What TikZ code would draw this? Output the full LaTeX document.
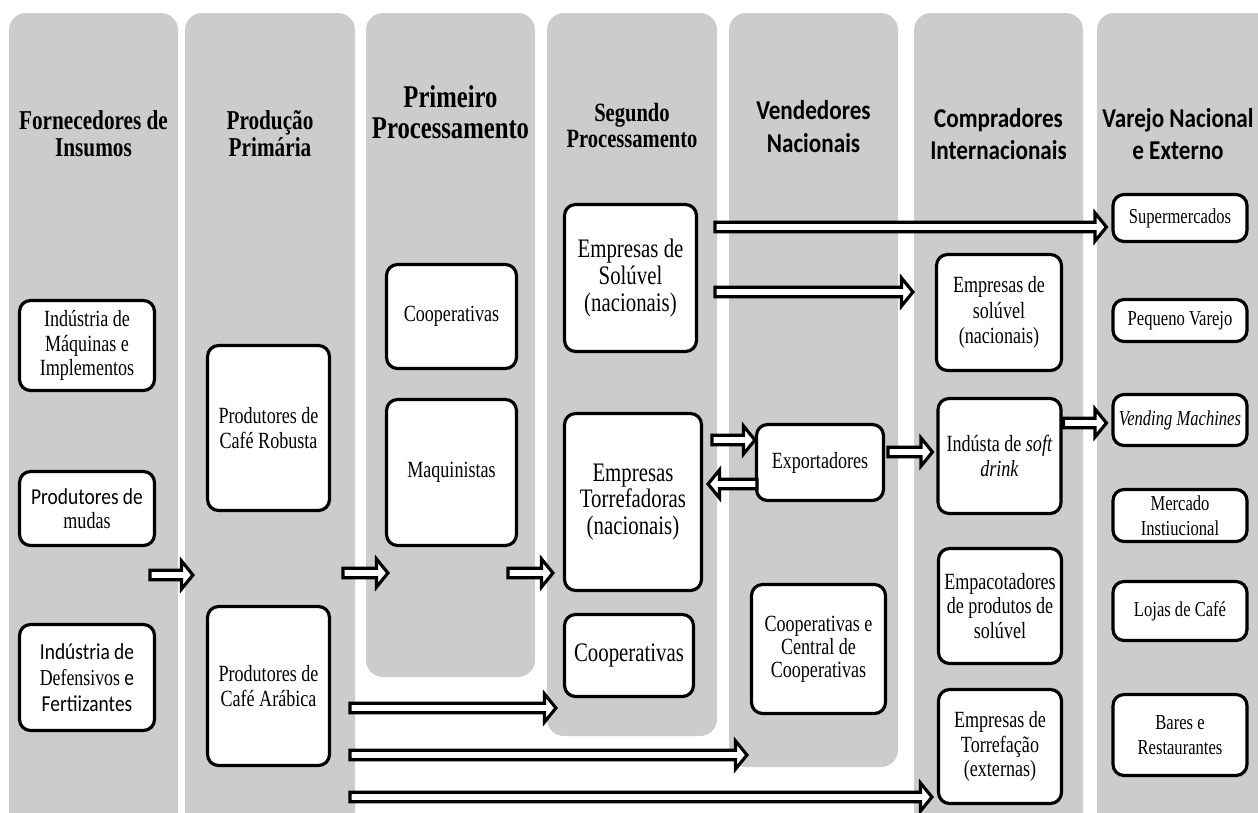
\documentclass[tikz,border=0pt]{standalone}
\usepackage{fontspec}
\setmainfont{Liberation Serif}[FakeStretch=0.78]
\setsansfont{Carlito}[FakeStretch=0.85]
\usepackage{tikz}
\usetikzlibrary{calc}

% seta em bloco (contorno preto, miolo branco) de #1 ate #2
\newcommand{\seta}[2]{%
  \draw[setabloco] let \p1=(#1), \p2=(#2), \p3=($(\p2)!6.5pt!(\p1)$) in
    (\x1,\y1+2.7pt) -- (\x3,\y1+2.7pt) -- (\x3,\y1+8pt) -- (\x2,\y1)
    -- (\x3,\y1-8pt) -- (\x3,\y1-2.7pt) -- (\x1,\y1-2.7pt) -- cycle;}

\begin{document}
\begin{tikzpicture}[x=0.02cm, y=-0.02cm]
\tikzset{%
  painel/.style = {fill=gray!40, rounded corners=0.34cm},
  caixa/.style = {%
    draw,
    fill = white,
    line width = 1.8pt,
    rounded corners = 0.22cm,
    align = center,
    inner sep = 1pt,
    font = \fontsize{13.2}{13.8}\selectfont},
  caixagr/.style = {caixa, font=\fontsize{15.2}{15.2}\selectfont},
  caixapq/.style = {caixa, font=\fontsize{12.1}{14}\selectfont,
    minimum width=2.68cm},
  titulo/.style = {align=center, font=\bfseries\fontsize{15.5}{15.3}\selectfont},
  titulosf/.style = {align=center, font=\sffamily\bfseries\fontsize{15.5}{18.5}\selectfont},
  setabloco/.style = {draw, fill=white, line width=1.8pt, line join=miter}
}

  \path[use as bounding box, fill=white] (0,0) rectangle (1258,812);
  \clip (0,0) rectangle (1258,812);

  \fill[painel] (9,13) rectangle (178,830);
  \fill[painel] (185,13) rectangle (355,830);
  \fill[painel] (366,13) rectangle (535,677);
  \fill[painel] (547,13) rectangle (717,736);
  \fill[painel] (729,13) rectangle (898,767);
  \fill[painel] (914,13) rectangle (1083,830);
  \fill[painel] (1097,13) rectangle (1275,830);

  \node[titulo] (h1) at (93.5,133.5) {Fornecedores de\\Insumos};
  \node[titulo] (h2) at (270,133.5) {Produção\\Primária};
  \node[titulo, font=\bfseries\fontsize{18}{17.8}\selectfont]
    (h3) at (450.5,112) {Primeiro\\Processamento};
  \node[titulo, font=\bfseries\fontsize{15}{14.8}\selectfont]
    (h4) at (632,125) {Segundo\\Processamento};
  \node[titulosf] (h5) at (813.5,126.5) {Vendedores\\Nacionais};
  \node[titulosf] (h6) at (998.5,134) {Compradores\\Internacionais};
  \node[titulosf] (h7) at (1178,134) {Varejo Nacional\\e Externo};

  \node[caixa, minimum width=2.7cm, minimum height=1.8cm]
    (maq) at (87,345.5) {Indústria de\\Máquinas e\\Implementos};
  \node[caixa, minimum width=2.7cm, minimum height=1.48cm]
    (mudas) at (87,508.5) {{\sffamily\fontsize{13}{15}\selectfont Produtores de}\\mudas};
  \node[caixa, minimum width=2.7cm, minimum height=2.12cm,
    font=\fontsize{13}{15}\selectfont]
    (defens) at (87,677.5) {{\sffamily Indústria de}\\Defensivos {\sffamily e}\\{\sffamily Fertiizantes}};

  \node[caixa, minimum width=2.44cm, minimum height=3.3cm]
    (robusta) at (268.5,428) {Produtores de\\Café Robusta};
  \node[caixa, minimum width=2.44cm, minimum height=3.18cm]
    (arabica) at (268.5,686) {Produtores de\\Café Arábica};

  \node[caixa, minimum width=2.6cm, minimum height=2.08cm]
    (coop1) at (451.5,316.5) {Cooperativas};
  \node[caixa, minimum width=2.6cm, minimum height=2.92cm]
    (maquin) at (451.5,472.5) {Maquinistas};

  \node[caixagr, minimum width=2.64cm, minimum height=2.94cm]
    (sol) at (630.5,278) {Empresas de\\Solúvel\\(nacionais)};
  \node[caixagr, minimum width=2.74cm, minimum height=3.54cm]
    (torr) at (633,502) {Empresas\\Torrefadoras\\(nacionais)};
  \node[caixagr, minimum width=2.58cm, minimum height=1.64cm]
    (coop2) at (629,655.5) {Cooperativas};

  \node[caixa, minimum width=2.54cm, minimum height=1.52cm]
    (exp) at (820,462.5) {Exportadores};
  \node[caixa, minimum width=2.68cm, minimum height=2.58cm,
    font=\fontsize{13.2}{13.2}\selectfont]
    (central) at (818.5,649) {Cooperativas e\\Central de\\Cooperativas};

  \node[caixa, minimum width=2.5cm, minimum height=2.32cm,
    font=\fontsize{13.2}{14.6}\selectfont]
    (sol2) at (999,312.5) {Empresas de\\solúvel\\(nacionais)};
  \node[caixa, minimum width=2.46cm, minimum height=2.3cm]
    (soft) at (999.5,456) {Indústa de \textit{soft}\\\textit{drink}};
  \node[caixa, minimum width=2.46cm, minimum height=2.3cm]
    (empac) at (1000,606) {Empacotadores\\de produtos de\\solúvel};
  \node[caixa, minimum width=2.46cm, minimum height=2.28cm]
    (torrext) at (1000,746.5) {Empresas de\\Torrefação\\(externas)};

  \node[caixapq, minimum height=0.94cm] (super) at (1180,218) {Supermercados};
  \node[caixapq, minimum height=0.84cm] (peq) at (1180,320.5) {Pequeno Varejo};
  \node[caixapq, minimum height=1.02cm] (vend) at (1180,420) {\textit{Vending Machines}};
  \node[caixapq, minimum height=1.04cm] (merc) at (1180,515.5) {Mercado\\Instiucional};
  \node[caixapq, minimum height=1.18cm] (lojas) at (1180,611) {Lojas de Café};
  \node[caixapq, minimum height=1.62cm] (bares) at (1180,735) {Bares e\\Restaurantes};

  \seta{$(mudas.east)+(-6,66.5)$}{$(robusta.west)+(-13,147)$}
  \seta{$(robusta.east)+(12,145)$}{$(maquin.west)+(3,100.5)$}
  \seta{$(maquin.east)+(-10,100.5)$}{$(torr.west)+(-10,71)$}
  \seta{$(sol.east)+(17,-51)$}{$(super.west)+(-5,9)$}
  \seta{$(sol.east)+(17,14)$}{$(sol2.west)+(-22,-20.5)$}
  \seta{$(torr.east)+(9,-62)$}{$(exp.west)+(0,-22.5)$}
  \seta{$(exp.west)+(2,21.5)$}{$(torr.east)+(5,-18)$}
  \seta{$(exp.east)+(3,-10.5)$}{$(soft.west)+(-4,-4)$}
  \seta{$(soft.east)+(1,-33)$}{$(vend.west)+(-5,3)$}
  \seta{$(arabica.east)+(19,22)$}{$(coop2.west)+(-7,52.5)$}
  \seta{$(arabica.east)+(19,69)$}{$(central.west)+(-3,106)$}
  \seta{$(arabica.east)+(19,111)$}{$(torrext.west)+(-5,50.5)$}
\end{tikzpicture}
\end{document}
